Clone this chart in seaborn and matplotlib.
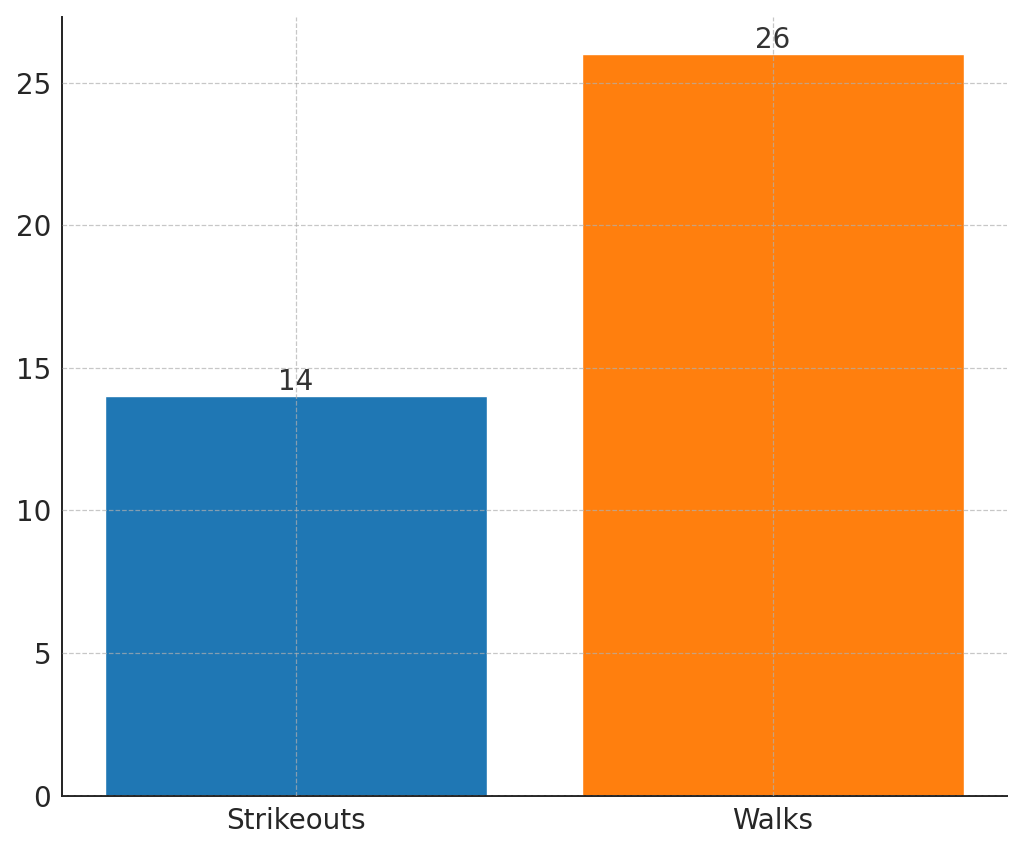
import matplotlib
matplotlib.use("Agg")
import matplotlib.pyplot as plt
import seaborn as sns
import pandas as pd

categories = ["Strikeouts", "Walks"]
values = [14, 26]
colors = ["#1f77b4", "#ff7f0e"]

sns.set_style("white")
plt.rcParams['font.family'] = ['DejaVu Sans']

df = pd.DataFrame({"category": categories, "value": values})

fig, ax = plt.subplots(figsize=(10.24, 8.5), dpi=100)
fig.subplots_adjust(left=0.061, right=0.983, top=0.98, bottom=0.064)

sns.barplot(data=df, x="category", y="value", hue="category", palette=colors,
            width=0.8, saturation=1, legend=False, ax=ax)

ax.set_xlim(-0.49, 1.49)
ax.set_ylim(0, 27.3)
ax.set_xlabel("")
ax.set_ylabel("")
ax.grid(True, linestyle="--", color="#b0b0b0", linewidth=0.9, alpha=0.7)
ax.set_axisbelow(False)
for s in ["top", "right"]:
    ax.spines[s].set_visible(False)
for s in ["left", "bottom"]:
    ax.spines[s].set_color("#222222")
    ax.spines[s].set_linewidth(1.4)
ax.tick_params(axis="both", labelsize=20, colors="#222222", length=4, width=1.2, pad=4)
ax.tick_params(axis="both", labelcolor="#262626")

for i, v in enumerate(values):
    ax.text(i, v, str(v), ha="center", va="bottom", fontsize=20, color="#333333")

fig.savefig("out.png", dpi=100)
